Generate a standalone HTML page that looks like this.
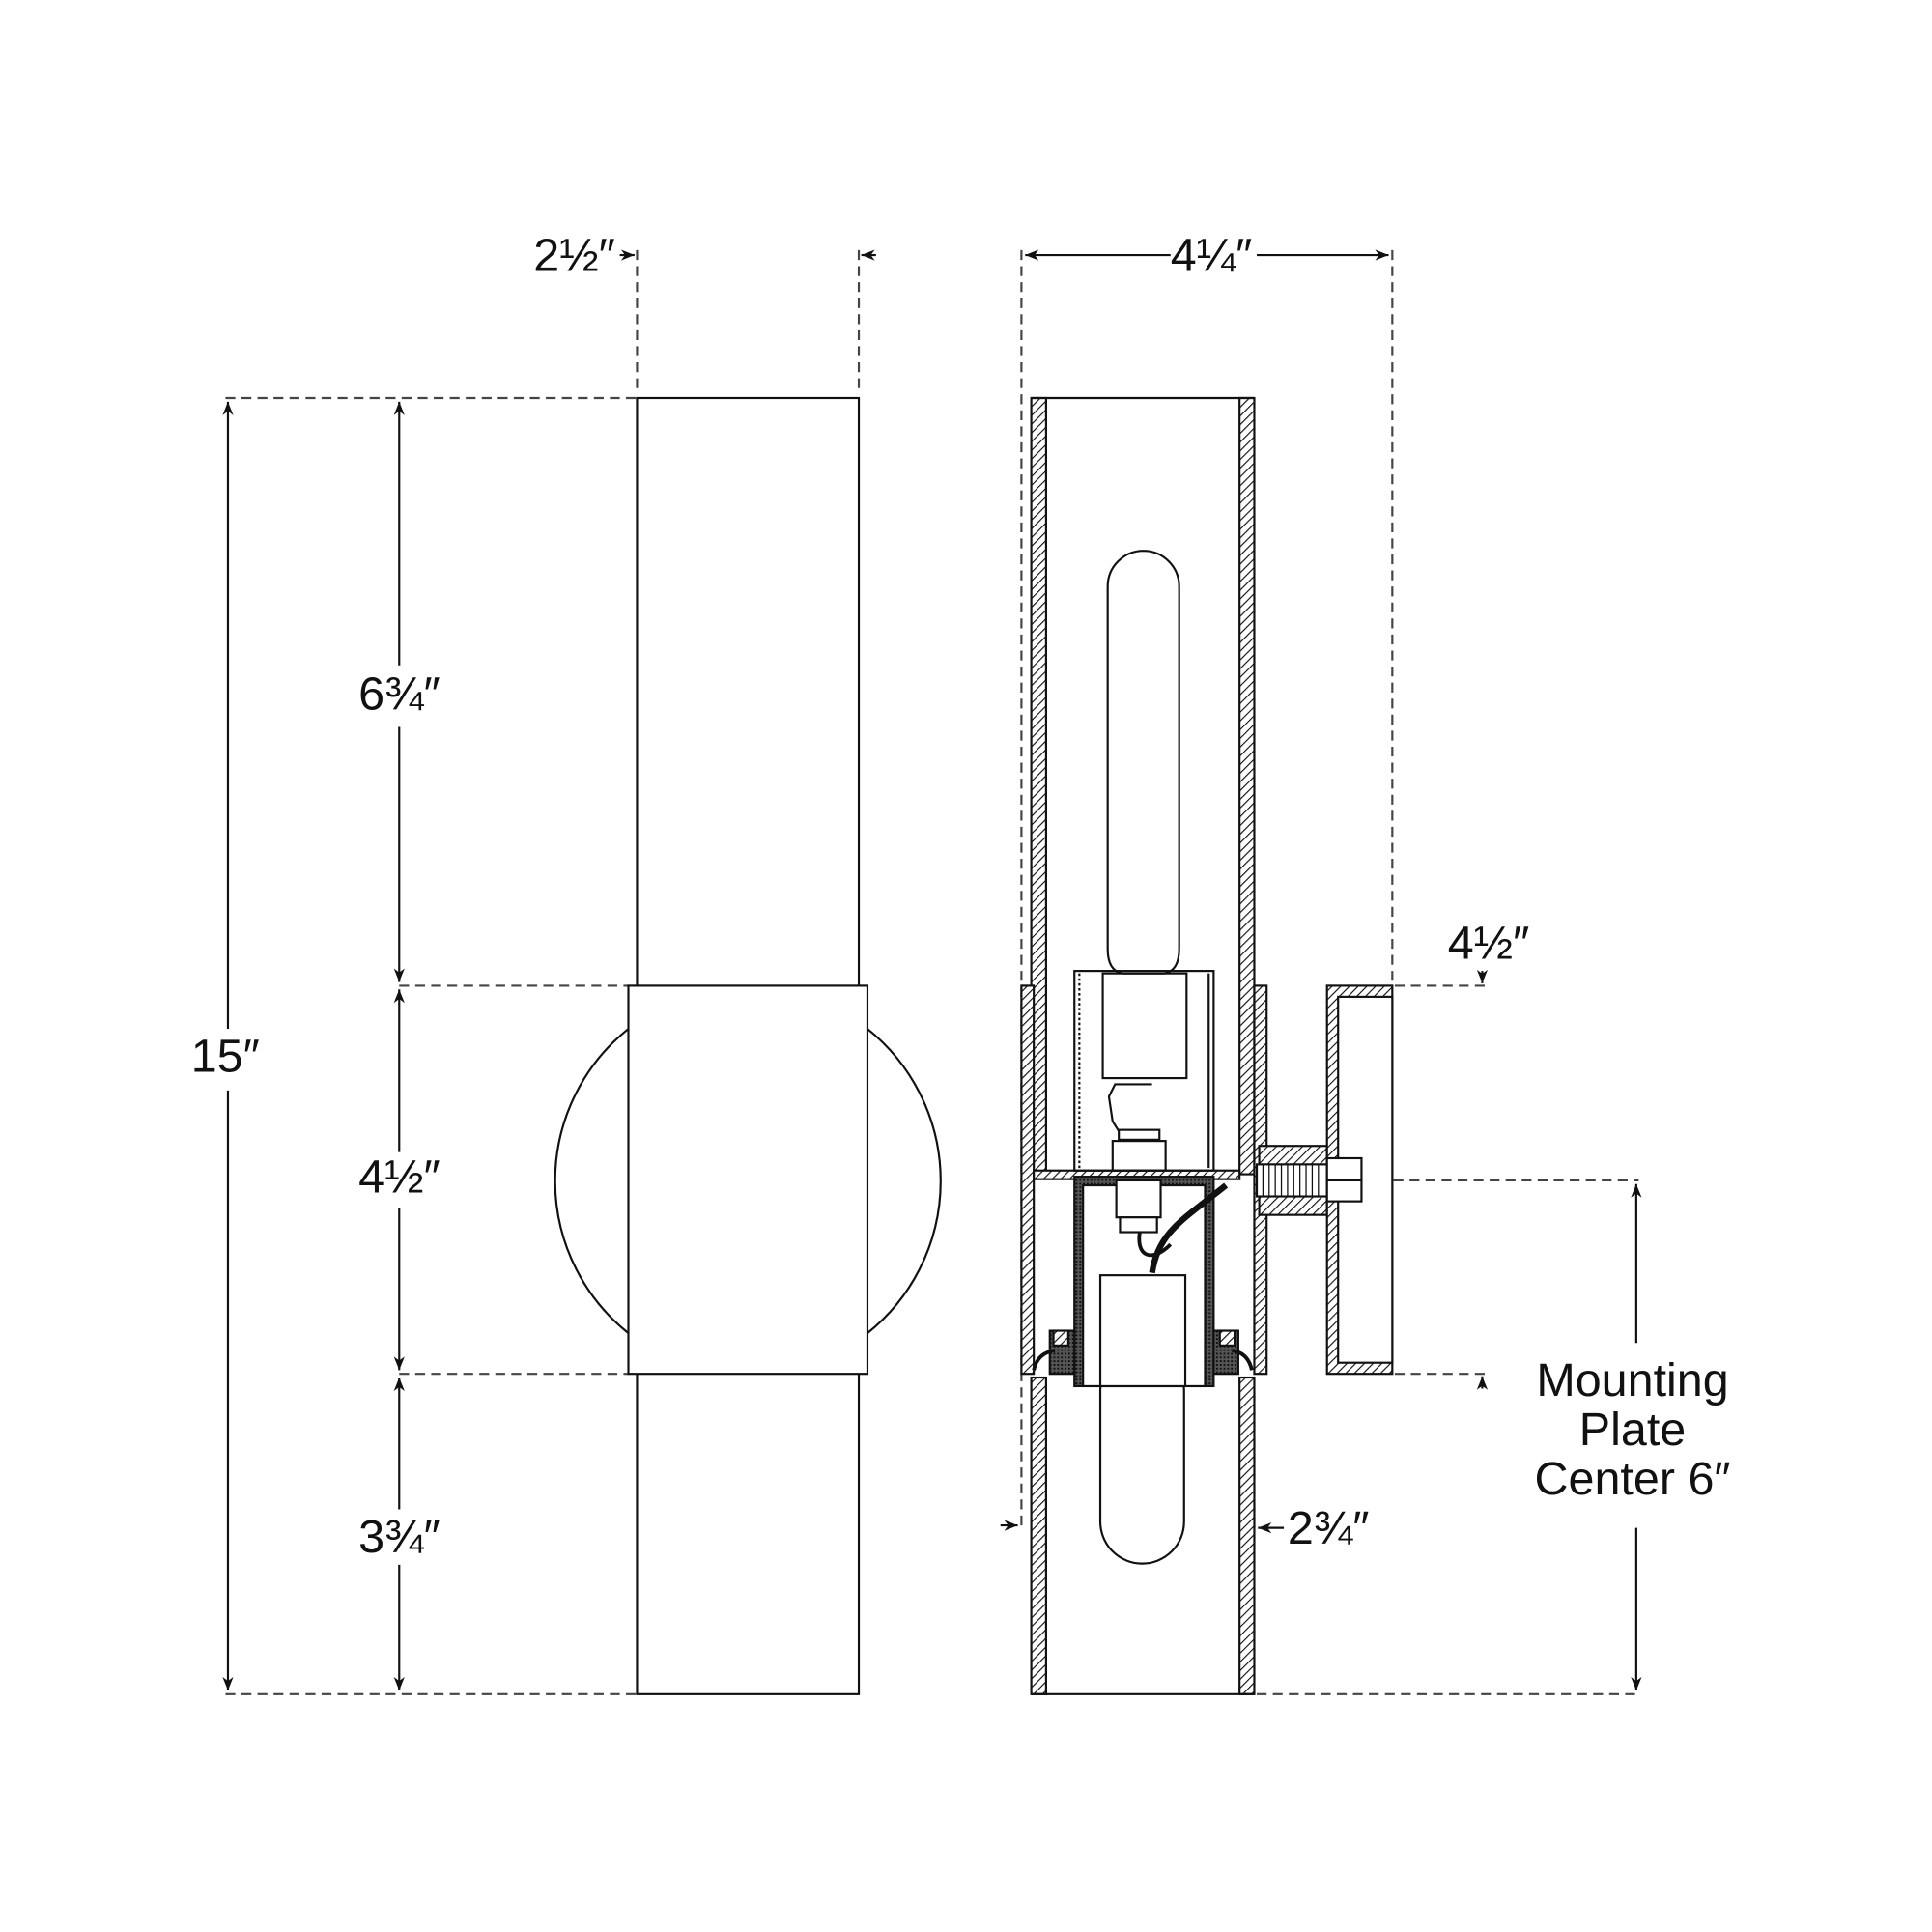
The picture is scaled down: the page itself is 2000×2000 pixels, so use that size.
<!DOCTYPE html>
<html><head><meta charset="utf-8"><style>
html,body{margin:0;padding:0;background:#fff}
svg{display:block}
text{font-family:"Liberation Sans",sans-serif;fill:#111}
</style></head><body>
<svg width="2000" height="2000" viewBox="0 0 1568 1568" xmlns="http://www.w3.org/2000/svg">
<defs>
<pattern id="h" width="5" height="5" patternUnits="userSpaceOnUse" patternTransform="rotate(45)">
<rect width="5" height="5" fill="#fff"/><line x1="0" y1="0" x2="0" y2="5" stroke="#111" stroke-width="1.8"/>
</pattern>
<pattern id="d" width="3" height="3" patternUnits="userSpaceOnUse">
<rect width="3" height="3" fill="#555"/><rect width="1.5" height="1.5" fill="#111"/>
</pattern>
<marker id="a" viewBox="0 0 10 10" refX="10" refY="5" markerWidth="11" markerHeight="11" orient="auto-start-reverse" markerUnits="userSpaceOnUse">
<path d="M0,1 L10,5 L0,9 L3,5 z" fill="#111"/>
</marker>
</defs>
<g fill="none" stroke="#111" stroke-width="1.7">
<!-- LEFT VIEW -->
<g stroke="#444" stroke-dasharray="8,5">
<line x1="183" y1="323" x2="516" y2="323"/>
<line x1="324" y1="800" x2="510" y2="800"/>
<line x1="324" y1="1115" x2="510" y2="1115"/>
<line x1="183" y1="1375" x2="516" y2="1375"/>
<line x1="517" y1="203" x2="517" y2="320"/>
<line x1="697" y1="203" x2="697" y2="320"/>
</g>
<rect x="517" y="323" width="180" height="1052"/>
<path d="M510,835 A158,158 0 0 0 510,1082"/>
<path d="M704,835 A158,158 0 0 1 704,1082"/>
<rect x="510" y="800" width="194" height="315" fill="#fff"/>
<!-- dims -->
<line x1="185" y1="326" x2="185" y2="835" marker-start="url(#a)"/>
<line x1="185" y1="885" x2="185" y2="1372" marker-end="url(#a)"/>
<line x1="324" y1="326" x2="324" y2="540" marker-start="url(#a)"/>
<line x1="324" y1="590" x2="324" y2="797" marker-end="url(#a)"/>
<line x1="324" y1="803" x2="324" y2="935" marker-start="url(#a)"/>
<line x1="324" y1="980" x2="324" y2="1112" marker-end="url(#a)"/>
<line x1="324" y1="1118" x2="324" y2="1225" marker-start="url(#a)"/>
<line x1="324" y1="1270" x2="324" y2="1372" marker-end="url(#a)"/>
<line x1="503" y1="207" x2="515" y2="207" marker-end="url(#a)"/>
<line x1="711" y1="207" x2="699" y2="207" marker-end="url(#a)"/>

<!-- RIGHT VIEW -->
<g stroke="#444" stroke-dasharray="8,5">
<line x1="829" y1="203" x2="829" y2="1238"/>
<line x1="1130" y1="203" x2="1130" y2="798"/>
<line x1="1018" y1="1240" x2="1018" y2="1130"/>
<line x1="1132" y1="800" x2="1205" y2="800"/>
<line x1="1132" y1="1115" x2="1205" y2="1115"/>
<line x1="1105" y1="958" x2="1330" y2="958"/>
<line x1="1020" y1="1375" x2="1330" y2="1375"/>
</g>
<line x1="832" y1="207" x2="950" y2="207" marker-start="url(#a)"/>
<line x1="1020" y1="207" x2="1127" y2="207" marker-end="url(#a)"/>
<line x1="1328" y1="961" x2="1328" y2="1090" marker-start="url(#a)"/>
<line x1="1328" y1="1240" x2="1328" y2="1372" marker-end="url(#a)"/>
<line x1="1203" y1="788" x2="1203" y2="798" marker-end="url(#a)"/>
<line x1="1203" y1="1127" x2="1203" y2="1117" marker-end="url(#a)"/>
<line x1="812" y1="1238" x2="826" y2="1238" marker-end="url(#a)"/>
<line x1="1042" y1="1240" x2="1021" y2="1240" marker-end="url(#a)"/>

<!-- tube walls -->
<rect x="837" y="323" width="12" height="630" fill="url(#h)"/>
<rect x="1006" y="323" width="12" height="630" fill="url(#h)"/>
<rect x="837" y="1118" width="12" height="257" fill="url(#h)"/>
<rect x="1006" y="1118" width="12" height="257" fill="url(#h)"/>
<line x1="837" y1="323" x2="1018" y2="323"/>
<line x1="837" y1="1375" x2="1018" y2="1375"/>
<!-- collar -->
<rect x="829" y="800" width="10" height="315" fill="url(#h)"/>
<rect x="1018" y="800" width="10" height="315" fill="url(#h)"/>
<!-- plate -->
<rect x="839" y="950" width="167" height="7" fill="url(#h)"/>
<!-- bulbs -->
<path d="M899,476 A29,29 0 0 1 957,476 L957,770 Q957,788 945,790 L911,790 Q899,788 899,770 Z"/>
<path d="M893,1128 Q893,1118 905,1118 L949,1118 Q961,1118 961,1128 L961,1235 A34,34 0 0 1 893,1235 Z"/>
<!-- upper socket -->
<rect x="872" y="788" width="113" height="162"/>
<line x1="876" y1="790" x2="876" y2="948" stroke-dasharray="2,2"/>
<line x1="981" y1="790" x2="981" y2="948"/>
<rect x="895" y="790" width="68" height="85"/>
<path d="M935,880 L905,880 L900,890 L903,910 L908,918"/>
<!-- nut/stud -->
<rect x="908" y="917" width="33" height="8"/>
<rect x="903" y="926" width="43" height="24"/>
<!-- lower housing -->
<rect x="872" y="955" width="113" height="170" fill="url(#d)"/>
<rect x="879" y="962" width="99" height="163" fill="#fff"/>
<rect x="906" y="958" width="36" height="30" fill="#fff"/>
<rect x="909" y="988" width="30" height="12" fill="#fff"/>
<rect x="893" y="1035" width="69" height="90" fill="#fff"/>
<path d="M935,1033 C940,1000 960,990 995,962" stroke-width="5"/>
<path d="M925,1000 C922,1020 935,1025 950,1010" stroke-width="3"/>
<!-- gaskets -->
<rect x="852" y="1080" width="20" height="35" fill="url(#d)"/>
<rect x="985" y="1080" width="20" height="35" fill="url(#d)"/>
<rect x="855" y="1080" width="12" height="12" fill="url(#h)"/>
<rect x="990" y="1080" width="12" height="12" fill="url(#h)"/>
<path d="M839,1112 Q842,1098 856,1096" stroke-width="3"/>
<path d="M1016,1112 Q1013,1098 1000,1096" stroke-width="3"/>
<!-- bolt and mounting plate -->
<rect x="1022" y="930" width="55" height="56" fill="url(#h)"/>
<rect x="1020" y="945" width="58" height="26" fill="#fff"/>
<g stroke-width="1"><line x1="1025" y1="945" x2="1025" y2="971"/><line x1="1030" y1="945" x2="1030" y2="971"/><line x1="1035" y1="945" x2="1035" y2="971"/><line x1="1040" y1="945" x2="1040" y2="971"/><line x1="1045" y1="945" x2="1045" y2="971"/><line x1="1050" y1="945" x2="1050" y2="971"/><line x1="1055" y1="945" x2="1055" y2="971"/><line x1="1060" y1="945" x2="1060" y2="971"/><line x1="1065" y1="945" x2="1065" y2="971"/><line x1="1070" y1="945" x2="1070" y2="971"/></g>
<rect x="1077" y="800" width="53" height="315" fill="url(#h)"/>
<rect x="1086" y="809" width="44" height="297" fill="#fff"/>
<rect x="1077" y="940" width="28" height="35" fill="#fff"/>
<line x1="1077" y1="958" x2="1105" y2="958"/>
</g>
<g font-size="38" font-weight="500">
<text x="433" y="220">2½″</text>
<text x="950" y="220">4¼″</text>
<text x="155" y="870">15″</text>
<text x="291" y="576">6¾″</text>
<text x="291" y="968">4½″</text>
<text x="291" y="1260">3¾″</text>
<text x="1175" y="778">4½″</text>
<text x="1045" y="1253">2¾″</text>
<text x="1325" y="1133" text-anchor="middle">Mounting</text>
<text x="1325" y="1173" text-anchor="middle">Plate</text>
<text x="1325" y="1213" text-anchor="middle">Center 6″</text>
</g>
</svg>
</body></html>
